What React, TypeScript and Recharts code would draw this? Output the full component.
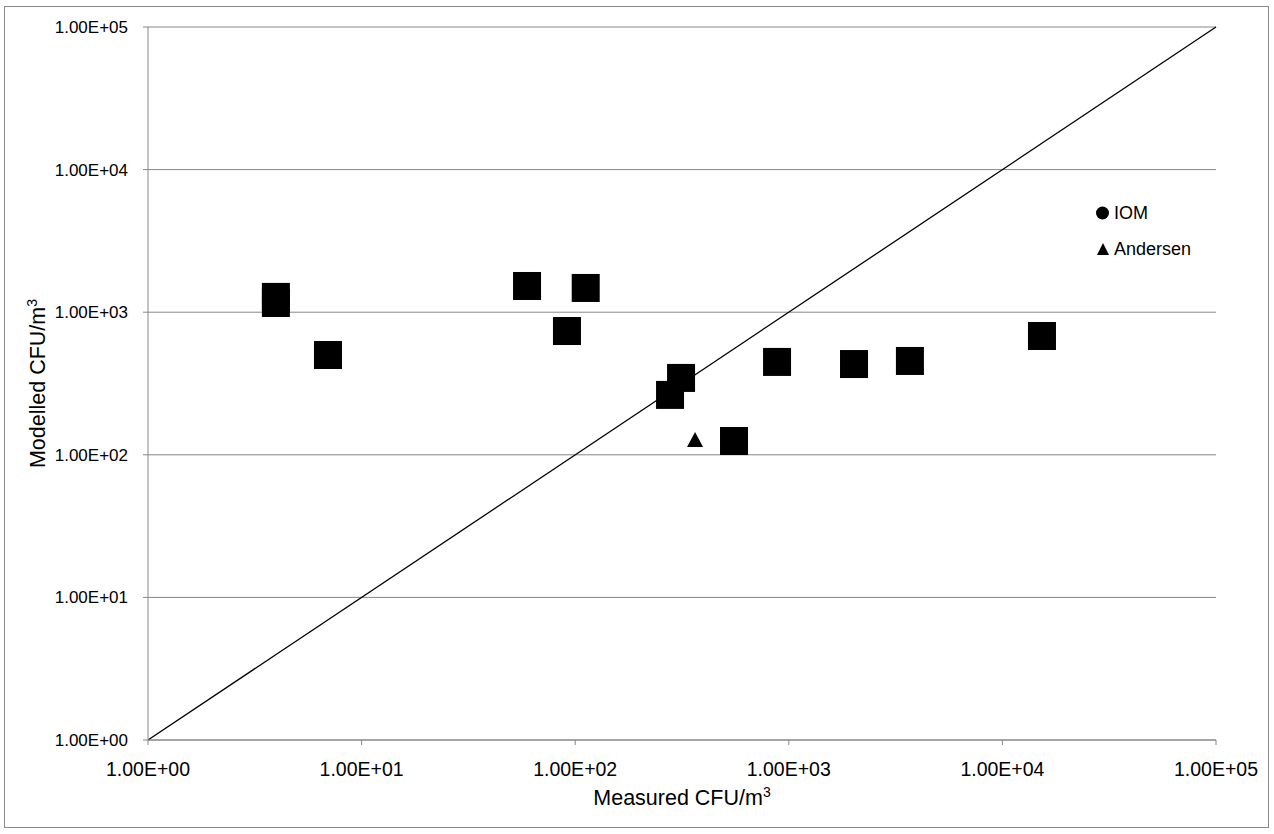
import React from "react";
import {
  ScatterChart,
  Scatter,
  XAxis,
  YAxis,
  CartesianGrid,
  ReferenceLine,
  Legend,
  Label,
} from "recharts";

const tickValues = [1, 10, 100, 1000, 10000, 100000];
const tickLabels = ["1.00E+00", "1.00E+01", "1.00E+02", "1.00E+03", "1.00E+04", "1.00E+05"];

const seriesNames = ["IOM", "Andersen"];

const iomMeasured = [3.97, 3.97, 6.96, 59.5, 112, 91.5, 278, 313, 554, 881, 2020, 3690, 15320];
const iomModelled = [1280, 1160, 501, 1527, 1479, 738, 263, 346, 125, 448, 433, 455, 681];

const andersenMeasured = [364];
const andersenModelled = [127];

const iomData = iomMeasured.map((x, i) => ({ x, y: iomModelled[i] }));
const andersenData = andersenMeasured.map((x, i) => ({ x, y: andersenModelled[i] }));

const FONT = "'Liberation Sans', Arial, sans-serif";
const GRAY = "#878787";

const fmt = (v: number) => {
  const i = tickValues.indexOf(v);
  return i >= 0 ? tickLabels[i] : String(v);
};

const SquareShape = (props: any) => {
  const { cx, cy } = props;
  if (cx == null || cy == null) return null;
  return <rect x={cx - 14} y={cy - 14} width={28} height={28} fill="#000" />;
};

const TriangleShape = (props: any) => {
  const { cx, cy } = props;
  if (cx == null || cy == null) return null;
  return (
    <polygon
      points={`${cx},${cy - 8} ${cx + 8},${cy + 7} ${cx - 8},${cy + 7}`}
      fill="#000"
    />
  );
};

const LegendContent = (props: any) => {
  const payload = [...(props.payload || [])].sort(
    (a: any, b: any) => seriesNames.indexOf(a.value) - seriesNames.indexOf(b.value)
  );
  return (
    <svg width={130} height={70} style={{ overflow: "visible" }}>
      {payload.map((p: any, i: number) => {
        const cy = 13 + i * 36;
        return (
          <g key={i}>
            {p.type === "circle" ? (
              <circle cx={12.5} cy={cy} r={6.5} fill="#000" />
            ) : (
              <polygon points={`13,${cy - 6} 19,${cy + 6} 7,${cy + 6}`} fill="#000" />
            )}
            <text
              x={24}
              y={cy}
              dy="0.36em"
              fontSize={18}
              fontFamily={FONT}
              fill="#000"
            >
              {p.value}
            </text>
          </g>
        );
      })}
    </svg>
  );
};

const TickText = (props: any) => {
  const { x, y, payload, textAnchor, axis } = props;
  const isX = axis === "x";
  return (
    <text
      x={x}
      y={y}
      textAnchor={textAnchor}
      dy={isX ? "0.71em" : "0.355em"}
      fontSize={isX ? 19.5 : 17}
      fontFamily={FONT}
      fill="#000"
    >
      {fmt(payload.value)}
    </text>
  );
};

export default function App() {
  return (
    <div style={{ position: "absolute", left: 0, top: 0, width: 1274, height: 834, background: "#fff" }}>
      <div
        style={{
          position: "absolute",
          left: 4,
          top: 6,
          width: 1265,
          height: 822,
          border: "1px solid #8a8a8a",
          boxSizing: "border-box",
        }}
      />
      <div style={{ position: "absolute", left: 0, top: 0 }}>
        <ScatterChart
          width={1274}
          height={834}
          margin={{ top: 27, right: 58, left: 0, bottom: 0 }}
          style={{ fontFamily: FONT }}
        >
          <CartesianGrid horizontal={true} vertical={false} stroke={GRAY} strokeWidth={1} />
          <XAxis
            type="number"
            dataKey="x"
            scale="log"
            domain={[1, 100000]}
            ticks={tickValues}
            allowDataOverflow
            height={94}
            stroke={GRAY}
            tickSize={5}
            tickMargin={17}
            tick={(p: any) => <TickText {...p} axis="x" />}
            interval={0}
          >
            <Label
              content={(p: any) => {
                const vb = p.viewBox || {};
                return (
                  <text
                    x={vb.x + vb.width / 2}
                    y={vb.y + 65}
                    textAnchor="middle"
                    fontSize={21.5}
                    fontFamily={FONT}
                    fill="#000"
                  >
                    Measured CFU/m
                    <tspan dy={-8} fontSize={14}>3</tspan>
                  </text>
                );
              }}
            />
          </XAxis>
          <YAxis
            type="number"
            dataKey="y"
            scale="log"
            domain={[1, 100000]}
            ticks={tickValues}
            allowDataOverflow
            width={148}
            stroke={GRAY}
            tickSize={5}
            tickMargin={15}
            tick={(p: any) => <TickText {...p} axis="y" />}
            interval={0}
          >
            <Label
              content={(p: any) => {
                const vb = p.viewBox || {};
                const cx = 45;
                const cy = vb.y + vb.height / 2;
                return (
                  <text
                    x={cx}
                    y={cy}
                    textAnchor="middle"
                    transform={`rotate(-90 ${cx} ${cy})`}
                    fontSize={21.5}
                    fontFamily={FONT}
                    fill="#000"
                  >
                    Modelled CFU/m
                    <tspan dy={-8} fontSize={14}>3</tspan>
                  </text>
                );
              }}
            />
          </YAxis>
          <ReferenceLine
            segment={[
              { x: 1, y: 1 },
              { x: 100000, y: 100000 },
            ]}
            stroke="#000"
            strokeWidth={1.3}
            ifOverflow="visible"
          />
          <Scatter
            name="IOM"
            data={iomData}
            shape={SquareShape}
            legendType="circle"
            isAnimationActive={false}
          />
          <Scatter
            name="Andersen"
            data={andersenData}
            shape={TriangleShape}
            legendType="triangle"
            isAnimationActive={false}
          />
          <Legend
            layout="vertical"
            align="center"
            verticalAlign="middle"
            content={LegendContent}
            wrapperStyle={{ position: "absolute", left: 1090, top: 200, width: 130, height: 70 }}
          />
        </ScatterChart>
      </div>
    </div>
  );
}
